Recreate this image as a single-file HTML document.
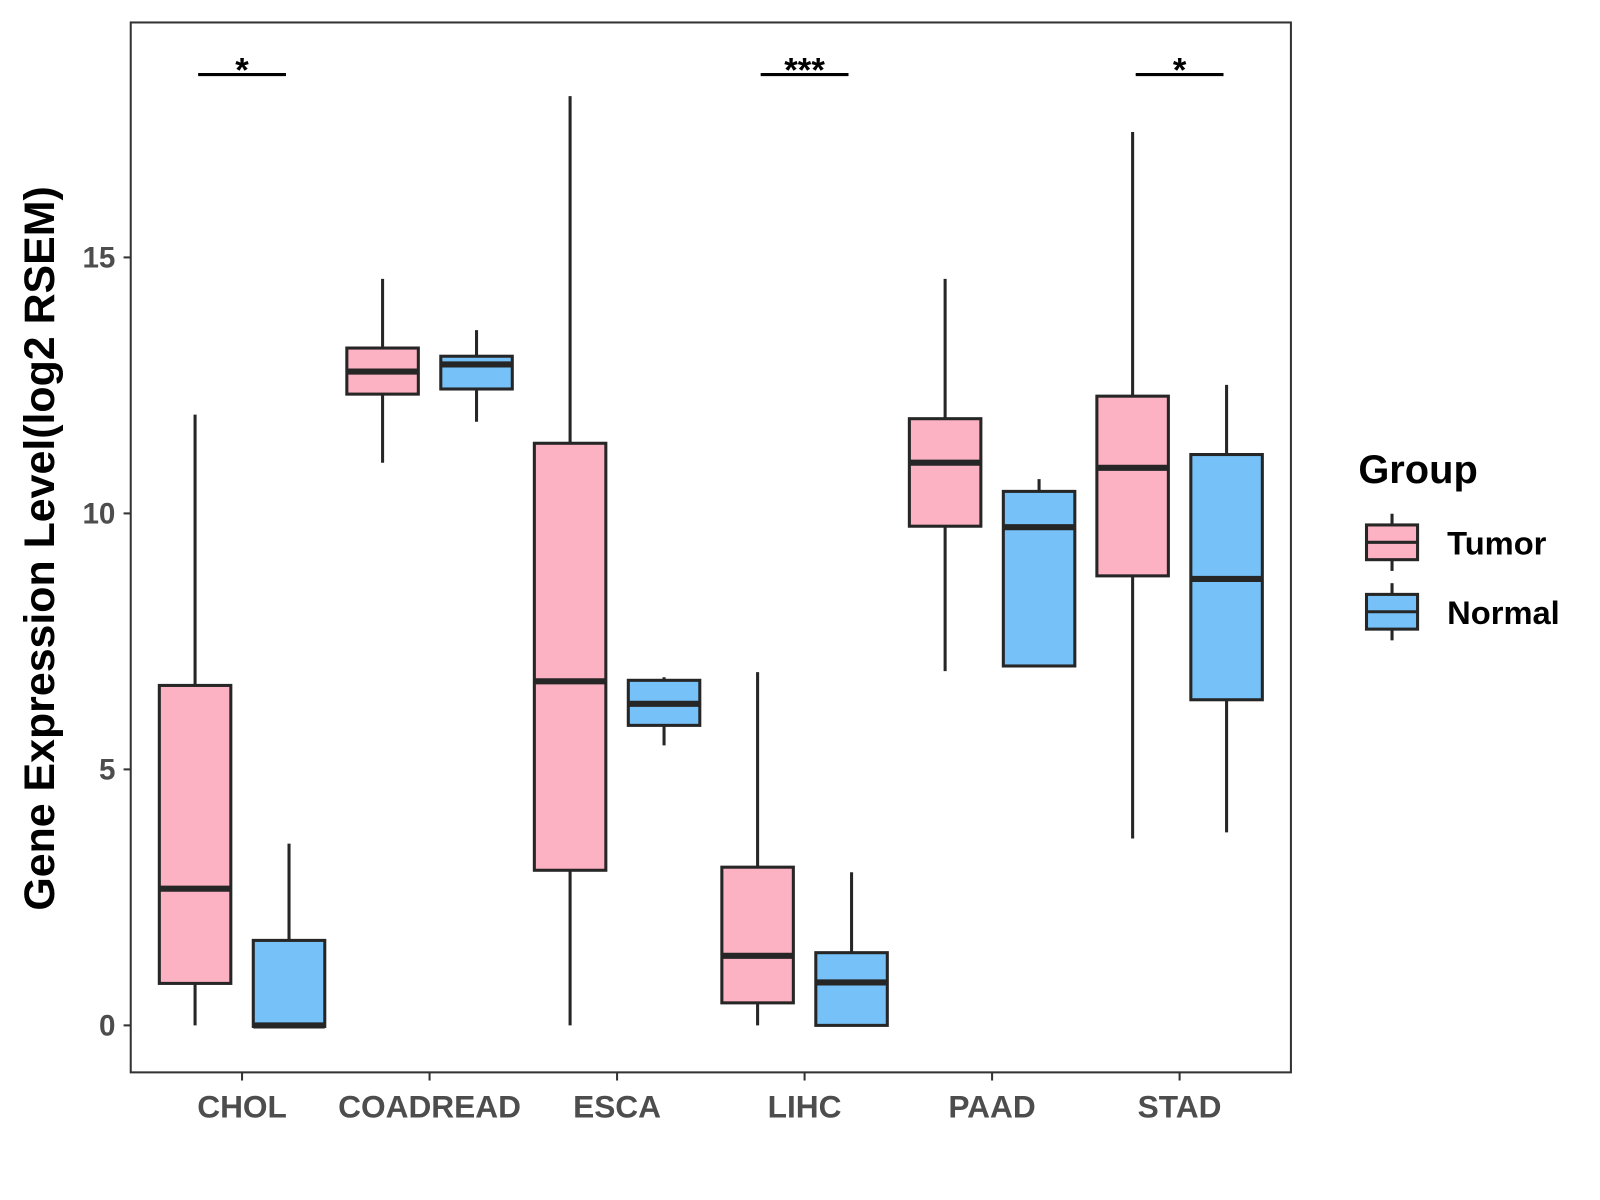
<!DOCTYPE html>
<html><head><meta charset="utf-8"><style>
html,body{margin:0;padding:0;background:#fff;}
svg{display:block;font-family:"Liberation Sans",Arial,sans-serif;}
</style></head><body>
<svg id="chart" width="1600" height="1200" viewBox="0 0 1600 1200" xmlns="http://www.w3.org/2000/svg">
<rect x="0" y="0" width="1600" height="1200" fill="#fff"/>
<g transform="scale(1.0213)">
<rect x="128" y="22" width="1136" height="1028" fill="#fff" stroke="#333" stroke-width="2"/>
<g id="marks"></g>
<text transform="translate(53,537) rotate(-90)" text-anchor="middle" font-size="42" font-weight="bold" fill="#000">Gene Expression Level(log2 RSEM)</text>
<g>
<text x="1330" y="473" font-size="39" font-weight="bold" fill="#000">Group</text>
<g>
<line x1="1363" y1="503" x2="1363" y2="559" stroke="#262626" stroke-width="3"/>
<rect x="1338" y="514" width="50" height="34" fill="#FCB2C2" stroke="#262626" stroke-width="3"/>
<line x1="1338" y1="531" x2="1388" y2="531" stroke="#262626" stroke-width="3"/>
<text x="1417" y="543" font-size="32" font-weight="bold" fill="#000">Tumor</text>
</g>
<g>
<line x1="1363" y1="571" x2="1363" y2="627" stroke="#262626" stroke-width="3"/>
<rect x="1338" y="582" width="50" height="34" fill="#76C2F8" stroke="#262626" stroke-width="3"/>
<line x1="1338" y1="599" x2="1388" y2="599" stroke="#262626" stroke-width="3"/>
<text x="1417" y="611" font-size="32" font-weight="bold" fill="#000">Normal</text>
</g>
</g>
</g>
</svg>
<script>
const categories = ["CHOL","COADREAD","ESCA","LIHC","PAAD","STAD"];
// [lowerWhisker, q1, median, q3, upperWhisker]
const tumorStats = [
 [0,0.82,2.67,6.64,11.93],
 [10.99,12.33,12.77,13.23,14.58],
 [0,3.03,6.72,11.37,18.15],
 [0,0.44,1.36,3.09,6.9],
 [6.92,9.75,10.99,11.85,14.58],
 [3.65,8.78,10.89,12.29,17.45]
];
const normalStats = [
 [0,-0.02,0.0,1.66,3.55],
 [11.79,12.43,12.91,13.07,13.58],
 [5.47,5.86,6.28,6.74,6.8],
 [0,0,0.84,1.42,2.99],
 [7.02,7.02,9.73,10.43,10.67],
 [3.77,6.36,8.72,11.15,12.51]
];
const yTicks = [0,5,10,15];
const significance = ["*","","","***","","*"];

const NS="http://www.w3.org/2000/svg";
const g=document.getElementById('marks');
function yS(v){return 1004-v*50.13;}
function xS(i){return 237+i*183.6;}
function el(t,a){const e=document.createElementNS(NS,t);for(const k in a)e.setAttribute(k,a[k]);g.appendChild(e);return e;}

yTicks.forEach(t=>{
 const tk=el('line',{x1:121,x2:128,y1:yS(t),y2:yS(t),stroke:'#333','stroke-width':2});
 
 
 const tx=el('text',{x:113,y:yS(t)+10,'text-anchor':'end','font-size':29,'font-weight':'bold',fill:'#4d4d4d'});
 tx.textContent=t;
 
 
});
categories.forEach((c,i)=>{
 const tk=el('line',{x1:xS(i),x2:xS(i),y1:1050,y2:1058,stroke:'#333','stroke-width':2});
 
 
 const tx=el('text',{x:xS(i),y:1094,'text-anchor':'middle','font-size':31,'font-weight':'bold',fill:'#4d4d4d'});
 tx.textContent=c;
 
 
});
function box(i,s,off,fill,name){
 const cx=xS(i)+off,w=70;
 const wl=el('line',{x1:cx,x2:cx,y1:yS(s[0]),y2:yS(s[4]),stroke:'#262626','stroke-width':3});
 
 
 const r=el('rect',{x:cx-w/2,y:yS(s[3]),width:w,height:Math.max(0,yS(s[1])-yS(s[3])),fill:fill,stroke:'#262626','stroke-width':3});
 
 
 const m=el('line',{x1:cx-w/2,x2:cx+w/2,y1:yS(s[2]),y2:yS(s[2]),stroke:'#262626','stroke-width':6});
 
 
}
categories.forEach((c,i)=>{
 box(i,tumorStats[i],-46,'#FCB2C2',c.toLowerCase()+'-tumor');
 box(i,normalStats[i],46,'#76C2F8',c.toLowerCase()+'-normal');
 if(significance[i]){
  const l=el('line',{x1:xS(i)-43,x2:xS(i)+43,y1:73,y2:73,stroke:'#000','stroke-width':3});
  
  
  const t=el('text',{x:xS(i),y:80,'text-anchor':'middle','font-size':34,'font-weight':'bold',fill:'#000'});
  t.textContent=significance[i];
  
  
 }
});
</script>
</body></html>
